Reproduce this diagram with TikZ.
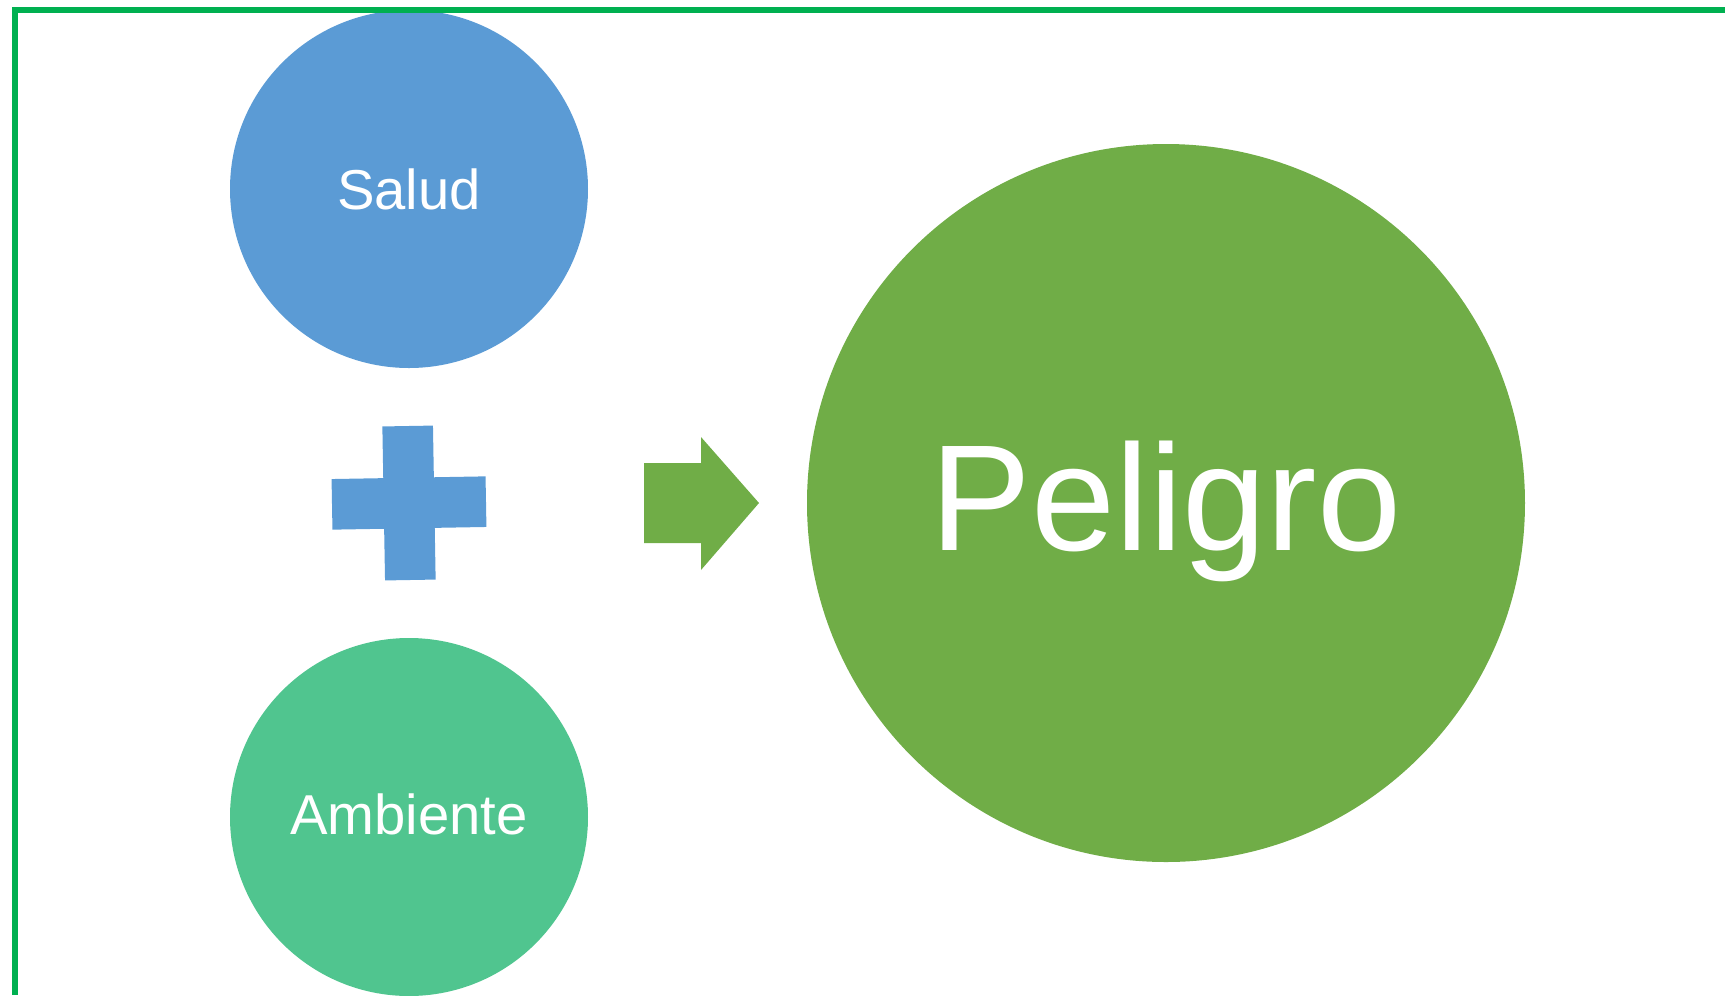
\documentclass[tikz,border=0pt]{standalone}
\usepackage{fontspec}
\setmainfont{Liberation Sans}
\usetikzlibrary{calc}
\definecolor{saludblue}{HTML}{5B9BD5}
\definecolor{ambgreen}{HTML}{50C58F}
\definecolor{pelgreen}{HTML}{70AD47}
\definecolor{framegreen}{HTML}{00B050}
\tikzset{bubble/.style={circle, inner sep=0pt, text=white},
         small bubble/.style={bubble, minimum size=3.58cm, font=\fontsize{16}{19}\selectfont},
         big bubble/.style={bubble, minimum size=7.18cm, font=\fontsize{43}{50}\selectfont},
        }

\begin{document}
\begin{tikzpicture}
        \useasboundingbox (0,0) rectangle (17.25,-9.95);
        \node[small bubble, fill=saludblue](salud)at(4.09,-1.89){Salud};
        \node[small bubble, fill=ambgreen](ambiente)at(4.09,-8.17){\raisebox{0.03cm}[\height][\depth]{Ambiente}};
        \node[big bubble, fill=pelgreen](peligro)at(11.66,-5.03){\raisebox{-0.08cm}[\height][\depth]{Peligro}};

        \coordinate(mas)at(4.09,-5.03);
        \fill[saludblue, rotate around={1:(mas)}]
            ($(mas)+(-0.253,0.77)$)--($(mas)+(0.253,0.77)$)--($(mas)+(0.253,0.253)$)
            --($(mas)+(0.77,0.253)$)--($(mas)+(0.77,-0.253)$)--($(mas)+(0.253,-0.253)$)
            --($(mas)+(0.253,-0.77)$)--($(mas)+(-0.253,-0.77)$)--($(mas)+(-0.253,-0.253)$)
            --($(mas)+(-0.77,-0.253)$)--($(mas)+(-0.77,0.253)$)--($(mas)+(-0.253,0.253)$)--cycle;

        \fill[pelgreen](6.44,-4.63)--(7.01,-4.63)--(7.01,-4.37)--(7.59,-5.03)
            --(7.01,-5.70)--(7.01,-5.43)--(6.44,-5.43)--cycle;

        \draw[framegreen, line width=0.055cm](0.15,-9.95)--(0.15,-0.10)--(17.25,-0.10);
    \end{tikzpicture}
\end{document}
